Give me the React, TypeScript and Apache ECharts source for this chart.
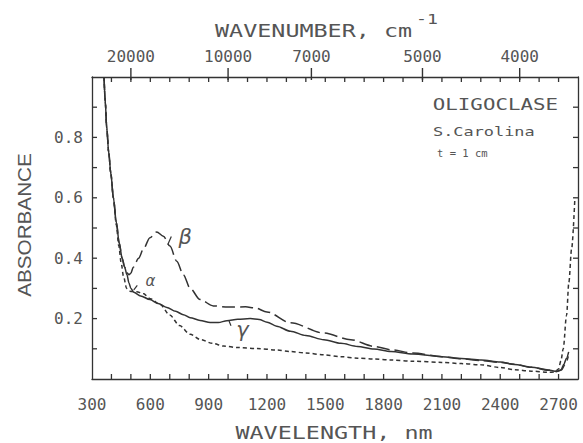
import React, { useEffect, useRef } from 'react';
import * as echarts from 'echarts';

// wavelength (nm), absorbance
const alphaData: number[][] = [
  [362, 1.0], [368, 0.92], [376, 0.83], [386, 0.75], [397, 0.68], [410, 0.6], [425, 0.51],
  [438, 0.44], [450, 0.385], [462, 0.34], [478, 0.3], [500, 0.29], [530, 0.289], [563, 0.283],
  [600, 0.266], [650, 0.247], [700, 0.212], [750, 0.177], [805, 0.148], [860, 0.13], [920, 0.118],
  [977, 0.109], [1050, 0.104], [1150, 0.101], [1250, 0.096], [1320, 0.091], [1400, 0.086],
  [1493, 0.08], [1580, 0.074], [1666, 0.069], [1750, 0.066], [1838, 0.063], [1950, 0.059],
  [2100, 0.055], [2200, 0.051], [2302, 0.047], [2400, 0.038], [2473, 0.031], [2560, 0.026],
  [2648, 0.022], [2680, 0.023], [2700, 0.033], [2712, 0.06], [2724, 0.1], [2741, 0.21],
  [2753, 0.32], [2767, 0.43], [2784, 0.6],
];

const betaData: number[][] = [
  [362, 1.0], [368, 0.92], [376, 0.83], [386, 0.75], [397, 0.68], [410, 0.6], [425, 0.52],
  [440, 0.45], [455, 0.4], [468, 0.37], [480, 0.352], [490, 0.345], [500, 0.35], [512, 0.37],
  [540, 0.4], [564, 0.43], [598, 0.468], [633, 0.487], [667, 0.473], [701, 0.44], [736, 0.39],
  [770, 0.345], [805, 0.3], [856, 0.263], [924, 0.242], [1000, 0.238], [1090, 0.239],
  [1140, 0.235], [1200, 0.222], [1321, 0.186], [1493, 0.152], [1631, 0.13], [1751, 0.108],
  [1838, 0.097], [1950, 0.086], [2100, 0.074], [2200, 0.067], [2302, 0.061], [2400, 0.055],
  [2473, 0.049], [2560, 0.039], [2648, 0.029], [2690, 0.025], [2715, 0.03], [2735, 0.05],
  [2750, 0.075],
];

const gammaData: number[][] = [
  [362, 1.0], [368, 0.92], [376, 0.83], [386, 0.75], [397, 0.68], [410, 0.6], [425, 0.52],
  [440, 0.45], [455, 0.4], [468, 0.37], [480, 0.345], [490, 0.318], [500, 0.3], [515, 0.287],
  [550, 0.275], [598, 0.263], [640, 0.25], [685, 0.237], [730, 0.224], [770, 0.213],
  [805, 0.203], [856, 0.194], [908, 0.187], [950, 0.187], [994, 0.193], [1050, 0.198],
  [1114, 0.2], [1160, 0.197], [1201, 0.188], [1250, 0.175], [1321, 0.158], [1400, 0.144],
  [1493, 0.13], [1580, 0.118], [1666, 0.108], [1750, 0.099], [1838, 0.091], [1950, 0.083],
  [2100, 0.074], [2200, 0.068], [2302, 0.063], [2400, 0.056], [2473, 0.048], [2560, 0.039],
  [2648, 0.03], [2690, 0.025], [2712, 0.03], [2728, 0.05], [2740, 0.068], [2752, 0.09],
];

const bottomLabels = [300, 600, 900, 1200, 1500, 1800, 2100, 2400, 2700];
const xTickValues = [400, 500, 600, 700, 800, 900, 1000, 1100, 1200, 1300, 1400, 1500, 1600, 1700,
  1800, 1900, 2000, 2100, 2200, 2300, 2400, 2500, 2600, 2700];
const yLabels = [0.2, 0.4, 0.6, 0.8];
const yTickValues = [0.1, 0.2, 0.3, 0.4, 0.5, 0.6, 0.7, 0.8, 0.9];
const wavenumbers = [20000, 10000, 7000, 5000, 4000];

const curveLabels = [
  { text: 'β', x: 779, y: 0.47, size: 21 },
  { text: 'α', x: 600, y: 0.323, size: 15 },
  { text: 'γ', x: 1074, y: 0.163, size: 21 },
];
const labelTicks: number[][] = [
  [690, 0.445, 708, 0.472],
  [515, 0.295, 533, 0.31],
  [1005, 0.192, 1015, 0.176],
];

const MONO = "'DejaVu Sans Mono', monospace";
const INK = '#333';
const TXT = '#555';
const X_MIN = 300, X_MAX = 2800, Y_MIN = 0, Y_MAX = 1;

export default function App() {
  const ref = useRef<HTMLDivElement>(null);
  useEffect(() => {
    if (!ref.current) return;
    const chart = echarts.init(ref.current, undefined, { renderer: 'svg' });
    const wnPos = wavenumbers.map((k) => 1e7 / k);
    const axisLine = () => ({ show: true, onZero: false, lineStyle: { color: INK, width: 1.3 } });
    const labelFont = { fontFamily: MONO, fontSize: 16, color: TXT };
    const tickStyle = { stroke: INK, lineWidth: 1.3 };
    const seg = (a: number[], dx: number, dy: number) => ({
      type: 'line', shape: { x1: a[0], y1: a[1], x2: a[0] + dx, y2: a[1] + dy }, style: tickStyle,
    });

    chart.setOption({
      animation: false,
      backgroundColor: '#fff',
      grid: { left: 92, right: 5, top: 77, bottom: 64 },
      xAxis: [
        {
          type: 'value', position: 'bottom', min: X_MIN, max: X_MAX, interval: 100,
          axisLine: axisLine(), axisTick: { show: false }, splitLine: { show: false },
          axisLabel: {
            ...labelFont, margin: 17,
            formatter: (v: number) => (bottomLabels.includes(Math.round(v)) ? String(Math.round(v)) : ''),
          },
        },
        {
          type: 'value', position: 'top', min: X_MIN, max: X_MAX, interval: 100,
          axisLine: axisLine(), axisTick: { show: false }, splitLine: { show: false }, axisLabel: { show: false },
        },
        {
          type: 'value', position: 'top', min: X_MIN, max: X_MAX,
          axisLine: { show: false, onZero: false }, axisTick: { show: false },
          axisLabel: {
            ...labelFont, margin: 13, customValues: wnPos,
            formatter: (v: number) => String(Math.round(1e7 / v / 1000) * 1000),
          },
          splitLine: { show: false },
        },
      ],
      yAxis: [
        {
          type: 'value', position: 'left', min: Y_MIN, max: Y_MAX, interval: 0.1,
          axisLine: axisLine(), axisTick: { show: false }, splitLine: { show: false },
          axisLabel: {
            ...labelFont, margin: 9,
            formatter: (v: number) => {
              const r = Math.round(v * 10) / 10;
              return yLabels.includes(r) ? r.toFixed(1) : '';
            },
          },
        },
        {
          type: 'value', position: 'right', min: Y_MIN, max: Y_MAX, interval: 0.1,
          axisLine: axisLine(), axisTick: { show: false }, splitLine: { show: false }, axisLabel: { show: false },
        },
      ],
      series: [
        {
          name: 'α', type: 'line', data: alphaData, symbol: 'none', smooth: 0.3, smoothMonotone: 'x',
          lineStyle: { color: INK, width: 1.5, type: [4, 3] }, z: 3,
        },
        {
          name: 'β', type: 'line', data: betaData, symbol: 'none', smooth: 0.3, smoothMonotone: 'x',
          lineStyle: { color: INK, width: 1.5, type: [13, 5] }, z: 3,
        },
        {
          name: 'γ', type: 'line', data: gammaData, symbol: 'none', smooth: 0.3, smoothMonotone: 'x',
          lineStyle: { color: INK, width: 1.5 }, z: 4,
        },
        // x-axis minor ticks (bottom and top, pointing inward)
        {
          type: 'custom', data: xTickValues.map((v) => [v, Y_MIN]), silent: true, z: 6, clip: false,
          renderItem: (params: any, api: any) => {
            const v = api.value(0);
            const b = api.coord([v, Y_MIN]);
            const t = api.coord([v, Y_MAX]);
            return { type: 'group', children: [seg(b, 0, -5), seg(t, 0, 5)] };
          },
        },
        // y-axis ticks (left and right, pointing inward)
        {
          type: 'custom', data: yTickValues.map((v) => [X_MIN, v]), silent: true, z: 6, clip: false,
          renderItem: (params: any, api: any) => {
            const v = api.value(1);
            const l = api.coord([X_MIN, v]);
            const r = api.coord([X_MAX, v]);
            return { type: 'group', children: [seg(l, 5, 0), seg(r, -5, 0)] };
          },
        },
        // wavenumber major ticks on top axis (pointing outward)
        {
          type: 'custom', data: wnPos.map((v) => [v, Y_MAX]), silent: true, z: 6, clip: false,
          renderItem: (params: any, api: any) => {
            const t = api.coord([api.value(0), Y_MAX]);
            return { type: 'line', shape: { x1: t[0], y1: t[1] + 3, x2: t[0], y2: t[1] - 9 }, style: { stroke: INK, lineWidth: 1.4 } };
          },
        },
        {
          type: 'custom', data: curveLabels.map((c) => [c.x, c.y]), silent: true, z: 5,
          renderItem: (params: any, api: any) => {
            const c = curveLabels[params.dataIndex];
            const p = api.coord([api.value(0), api.value(1)]);
            return {
              type: 'text', x: p[0], y: p[1],
              style: {
                text: c.text, fontSize: c.size, fontFamily: "'DejaVu Sans', sans-serif",
                fontStyle: 'italic', fill: TXT, align: 'center', verticalAlign: 'middle',
              },
            };
          },
        },
        {
          type: 'custom', data: labelTicks, silent: true, z: 5,
          encode: { x: [0, 2], y: [1, 3] },
          renderItem: (params: any, api: any) => {
            const a = api.coord([api.value(0), api.value(1)]);
            const b = api.coord([api.value(2), api.value(3)]);
            return {
              type: 'line',
              shape: { x1: a[0], y1: a[1], x2: b[0], y2: b[1] },
              style: { stroke: INK, lineWidth: 1.2 },
            };
          },
        },
      ],
      graphic: [
        {
          type: 'text', x: 334, y: 433, scaleX: 1.3,
          style: { text: 'WAVELENGTH, nm', fontFamily: MONO, fontSize: 18, fill: TXT, align: 'center', verticalAlign: 'middle' },
        },
        {
          type: 'text', x: 215, y: 31, scaleX: 1.3,
          style: { text: 'WAVENUMBER, cm', fontFamily: MONO, fontSize: 18, fill: TXT, align: 'left', verticalAlign: 'middle' },
        },
        {
          type: 'text', x: 416, y: 19, scaleX: 1.3,
          style: { text: '-1', fontFamily: MONO, fontSize: 14, fill: TXT, align: 'left', verticalAlign: 'middle' },
        },
        {
          type: 'text', x: 25, y: 225, rotation: Math.PI / 2, scaleX: 1.15,
          style: { text: 'ABSORBANCE', fontFamily: "'Liberation Sans', Arial, sans-serif", fontSize: 18, fill: TXT, align: 'center', verticalAlign: 'middle' },
        },
        {
          type: 'text', x: 558, y: 104, scaleX: 1.3,
          style: { text: 'OLIGOCLASE', fontFamily: MONO, fontSize: 16, fill: TXT, align: 'right', verticalAlign: 'middle' },
        },
        {
          type: 'text', x: 433, y: 132, scaleX: 1.3,
          style: { text: 'S.Carolina', fontFamily: MONO, fontSize: 13, fill: TXT, align: 'left', verticalAlign: 'middle' },
        },
        {
          type: 'text', x: 437, y: 153, scaleX: 1.05,
          style: { text: 't = 1 cm', fontFamily: MONO, fontSize: 10, fill: TXT, align: 'left', verticalAlign: 'middle' },
        },
      ],
    });
    return () => chart.dispose();
  }, []);
  return <div ref={ref} style={{ position: 'absolute', left: 0, top: 0, width: 583, height: 443 }} />;
}
